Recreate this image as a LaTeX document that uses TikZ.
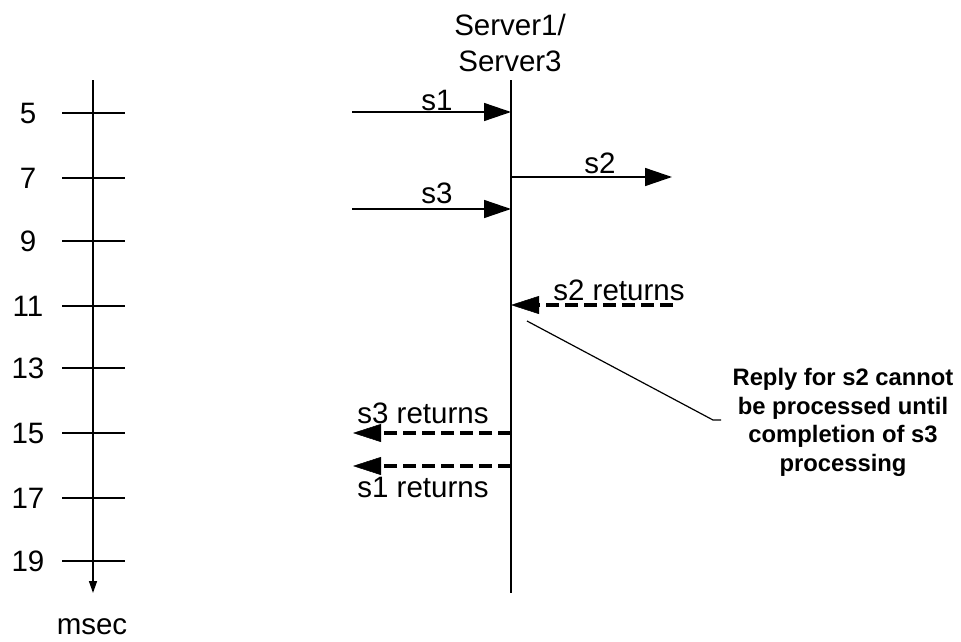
\documentclass[tikz,border=0pt]{standalone}
\usepackage{fontspec}
\setmainfont{Liberation Sans}
\usetikzlibrary{arrows.meta}
\begin{document}
\begin{tikzpicture}[x=1pt,y=-1pt,
  lbl/.style={font=\fontsize{29.5}{36}\selectfont, inner sep=0pt, align=center},
  note/.style={font=\bfseries\fontsize{23.8}{28.5}\selectfont, inner sep=0pt, align=center},
  axis/.style={line width=1.5pt},
  tick/.style={line width=1.5pt},
  msg/.style={line width=1.5pt, -{Triangle[length=27pt,width=18pt]}},
  ret/.style={line width=4pt, dash pattern=on 13pt off 6pt,
              -{Triangle[length=28pt,width=18pt,line width=0.5pt]}},
  lead/.style={line width=1.2pt}]
\useasboundingbox (0,0) rectangle (961,642);

% time axis
\coordinate (ttop) at (93,80);
\coordinate (tbot) at (93,593);
\draw[axis, -{Triangle[length=12pt,width=8pt]}] (ttop) -- (tbot);
\node[lbl] (unit) at (92,627) {msec};

% ticks and their labels
\foreach \v/\y in {5/113,7/178,9/241,11/306,13/368,15/433,17/498,19/561}{
  \coordinate (tl\v) at (62,\y);
  \coordinate (tr\v) at (125,\y);
  \draw[tick] (tl\v) -- (tr\v);
  \node[lbl] (tn\v) at (28,\y) {\v};
}

% server lifeline
\node[lbl] (srv) at (510,43) {Server1/\\Server3};
\coordinate (stop) at (511,80);
\coordinate (sbot) at (511,593);
\draw[axis] (stop) -- (sbot);

% requests
\coordinate (s1a) at (352,112);  \coordinate (s1b) at (511,112);
\coordinate (s3a) at (352,209);  \coordinate (s3b) at (511,209);
\coordinate (s2a) at (511,177);  \coordinate (s2b) at (672,177);
\draw[msg] (s1a) -- (s1b);
\draw[msg] (s3a) -- (s3b);
\draw[msg] (s2a) -- (s2b);
\node[lbl] (ls1) at (437,100) {s1};
\node[lbl] (ls3) at (437,193) {s3};
\node[lbl] (ls2) at (600,163) {s2};

% replies
\coordinate (r2a) at (673,305);  \coordinate (r2b) at (511,305);
\coordinate (r3a) at (511,433);  \coordinate (r3b) at (353,433);
\coordinate (r1a) at (511,466);  \coordinate (r1b) at (353,466);
\draw[ret] (r2a) -- (r2b);
\draw[ret] (r3a) -- (r3b);
\draw[ret] (r1a) -- (r1b);
\node[lbl] (lr2) at (619,290) {s2 returns};
\node[lbl] (lr3) at (423,413) {s3 returns};
\node[lbl] (lr1) at (423,487) {s1 returns};

% annotation
\node[note] (memo) at (843,422.5) {Reply for s2 cannot\\be processed until\\completion of s3\\processing};
\coordinate (ca) at (527,321);
\coordinate (cb) at (713,420);
\coordinate (cc) at (721,420);
\draw[lead] (ca) -- (cb) -- (cc);
\end{tikzpicture}
\end{document}
